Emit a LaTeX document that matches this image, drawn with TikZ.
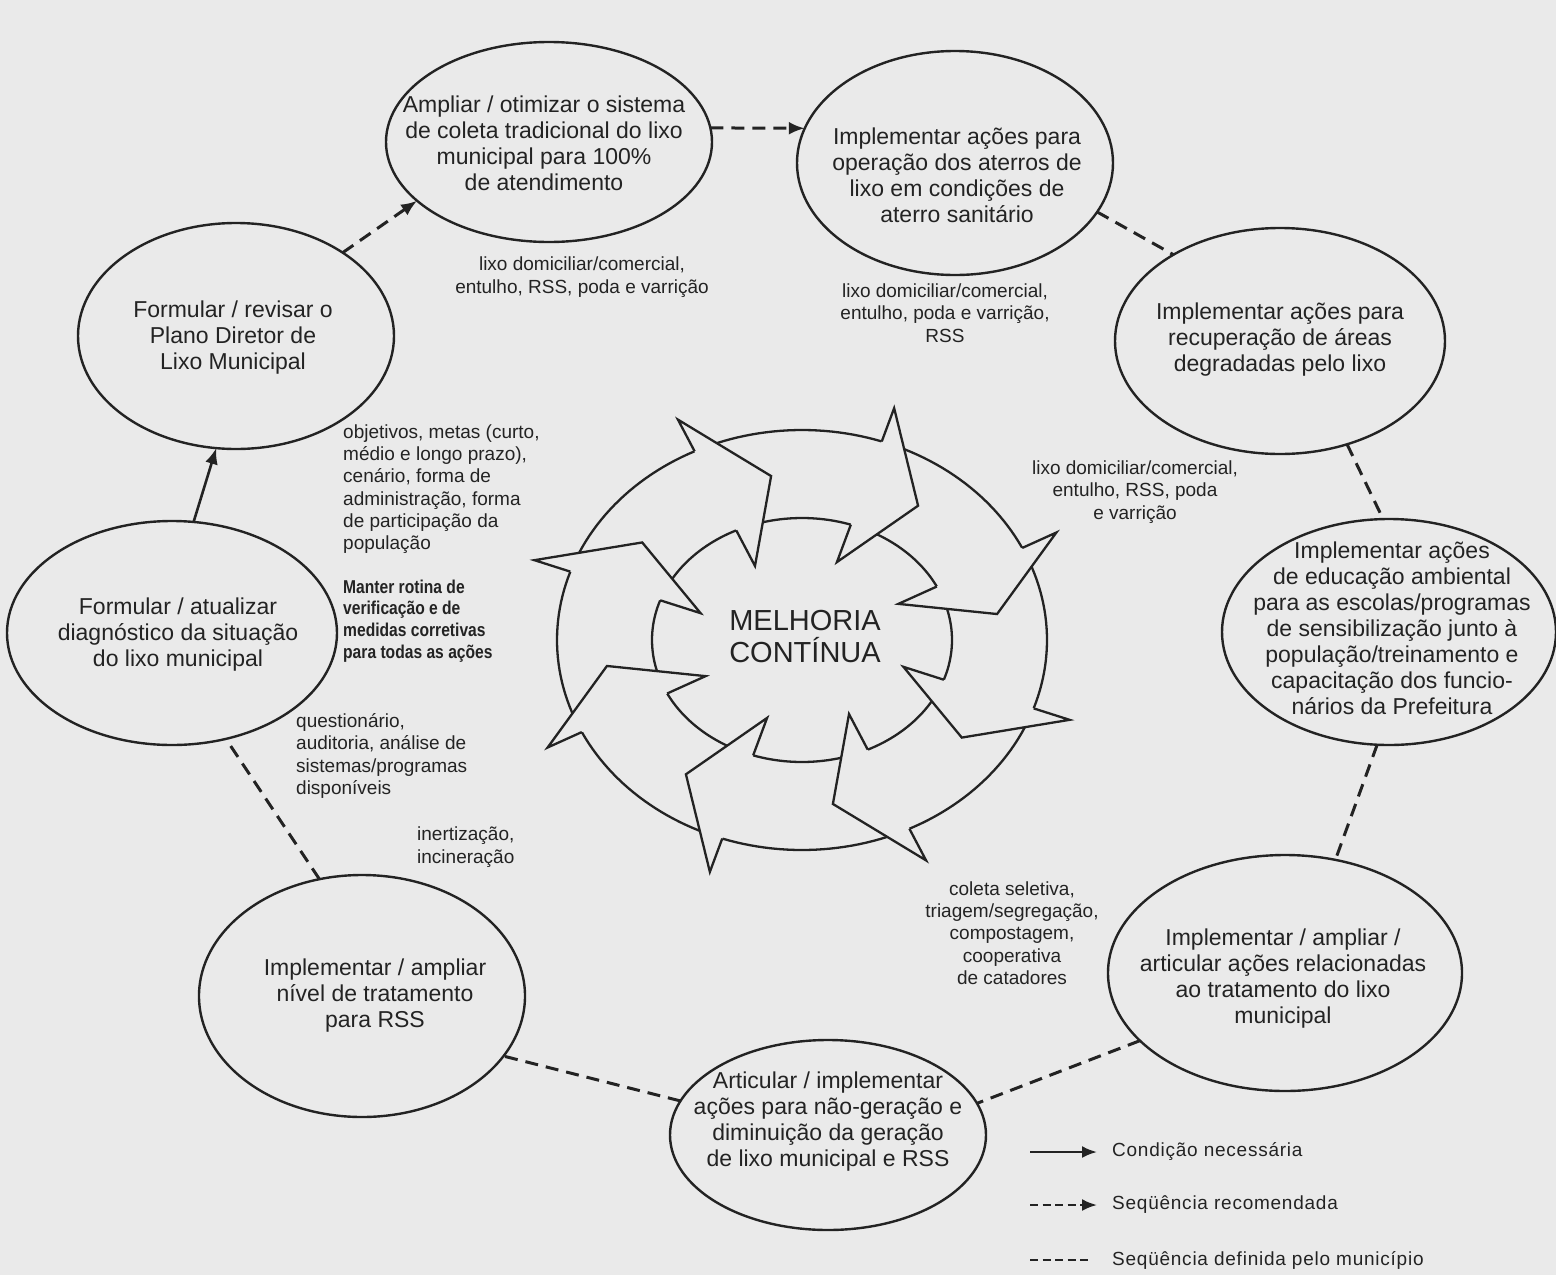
\documentclass[tikz,border=0pt]{standalone}
\usepackage{fontspec}
\setmainfont{Liberation Sans}
\newfontfamily\narrowfont[FakeStretch=0.84]{Liberation Sans}
\newfontfamily\legfont[LetterSpace=4]{Liberation Sans}
\usetikzlibrary{shapes.geometric,arrows.meta}
\definecolor{bg}{RGB}{234,234,234}
\definecolor{ink}{RGB}{35,35,35}
\begin{document}
\begin{tikzpicture}[x=1pt,y=-1pt,
  blob/.style={draw=ink, line width=2.4pt, ellipse, inner sep=0pt, outer sep=0pt},
  maintxt/.style={align=center, text=ink, font=\fontsize{23}{26}\selectfont, inner sep=0pt},
  smalltxt/.style={align=center, text=ink, font=\fontsize{19}{22.3}\selectfont, inner sep=0pt},
  lefttxt/.style={smalltxt, align=left, anchor=west},
  boldtxt/.style={align=left, anchor=west, text=ink, font=\narrowfont\bfseries\fontsize{18.6}{21.7}\selectfont, inner sep=0pt},
  centertxt/.style={align=center, text=ink, font=\fontsize{29}{32}\selectfont, inner sep=0pt},
  legtxt/.style={anchor=west, text=ink, font=\legfont\fontsize{19}{22}\selectfont, inner sep=0pt},
  seqdef/.style={draw=ink, line width=3pt, dash pattern=on 13pt off 8pt},
  seqrec/.style={seqdef, -{Latex[length=16pt,width=13pt]}},
  cond/.style={draw=ink, line width=2.6pt, -{Latex[length=16pt,width=13pt]}},
  legdash/.style={draw=ink, line width=2.4pt, dash pattern=on 8pt off 4.5pt},
  ring/.style={draw=ink, line width=2.3pt},
]
\fill[bg] (0,0) rectangle (1556,1275);
\useasboundingbox (0,0) rectangle (1556,1275);

% ---------------- central ring of arrows ----------------
\foreach \b in {161,116,71,26,-19,-64,-109,-154}{
  \pgfmathsetmacro\t{\b+41}
  \fill[bg] plot[domain=\t:\b, samples=25, variable=\u] ({802+245*cos(\u)},{640-210*sin(\u)})
     -- plot[domain=\b:\t, samples=25, variable=\u] ({802+150*cos(\u)},{640-122*sin(\u)}) -- cycle;
}
\foreach \b in {161,116,71,26,-19,-64,-109,-154}{
  \pgfmathsetmacro\t{\b+41}
  \draw[ring] plot[domain=\t:\b, samples=25, variable=\u] ({802+245*cos(\u)},{640-210*sin(\u)});
  \draw[ring] plot[domain=\t:\b, samples=25, variable=\u] ({802+150*cos(\u)},{640-122*sin(\u)});
}
\foreach \b in {161,116,71,26,-19,-64,-109,-154}{
  \pgfmathsetmacro\p{\b-17}
  \filldraw[ring, fill=bg]
    ({802+245*cos(\b)},{640-210*sin(\b)})
    -- ({802+(150+95*1.4)*cos(\b)},{640-(122+88*1.4)*sin(\b)})
    -- ({802+(150+95*0.5)*cos(\p)},{640-(122+88*0.5)*sin(\p)})
    -- ({802+(150-95*0.45)*cos(\b)},{640-(122-88*0.45)*sin(\b)})
    -- ({802+150*cos(\b)},{640-122*sin(\b)});
}
\node[centertxt] (mel) at (805,637) {MELHORIA\\CONTÍNUA};

% ---------------- ellipses ----------------
\node[blob, minimum width=316pt, minimum height=226pt] (Plano) at (236,336) {};
\node[blob, minimum width=326pt, minimum height=200pt] (Amp) at (549,142) {};
\node[blob, minimum width=316pt, minimum height=224pt] (Ater) at (955,163) {};
\node[blob, minimum width=330pt, minimum height=226pt] (Recu) at (1280,341) {};
\node[blob, minimum width=334pt, minimum height=226pt] (Educ) at (1389,632) {};
\node[blob, minimum width=354pt, minimum height=236pt] (Trat) at (1285,973) {};
\node[blob, minimum width=316pt, minimum height=190pt] (Artic) at (828,1135) {};
\node[blob, minimum width=326pt, minimum height=242pt] (RSS) at (362,996) {};
\node[blob, minimum width=330pt, minimum height=224pt] (Diag) at (172,633) {};

\node[maintxt] (tPlano) at (233,338) {Formular / revisar o\\Plano Diretor de\\Lixo Municipal};
\node[maintxt] (tAmp) at (544,143) {Ampliar / otimizar o sistema\\de coleta tradicional do lixo\\municipal para 100\%\\de atendimento};
\node[maintxt] (tAter) at (957,175) {Implementar ações para\\operação dos aterros de\\lixo em condições de\\aterro sanitário};
\node[maintxt] (tRecu) at (1280,340) {Implementar ações para\\recuperação de áreas\\degradadas pelo lixo};
\node[maintxt] (tEduc) at (1392,628) {Implementar ações\\de educação ambiental\\para as escolas/programas\\de sensibilização junto à\\população/treinamento e\\capacitação dos funcio-\\nários da Prefeitura};
\node[maintxt] (tTrat) at (1283,979) {Implementar / ampliar /\\articular ações relacionadas\\ao tratamento do lixo\\municipal};
\node[maintxt] (tArtic) at (828,1122) {Articular / implementar\\ações para não-geração e\\diminuição da geração\\de lixo municipal e RSS};
\node[maintxt] (tRSS) at (375,996) {Implementar / ampliar\\nível de tratamento\\para RSS};
\node[maintxt] (tDiag) at (178,635) {Formular / atualizar\\diagnóstico da situação\\do lixo municipal};

% ---------------- labels ----------------
\node[smalltxt] (lbAmp) at (582,277) {lixo domiciliar/comercial,\\entulho, RSS, poda e varrição};
\node[smalltxt] (lbAter) at (945,313) {lixo domiciliar/comercial,\\entulho, poda e varrição,\\RSS};
\node[lefttxt] (lbPlano) at (343,489) {objetivos, metas (curto,\\médio e longo prazo),\\cenário, forma de\\administração, forma\\de participação da\\população};
\node[boldtxt] (lbMant) at (343,621) {Manter rotina de\\verificação e de\\medidas corretivas\\para todas as ações};
\node[lefttxt] (lbDiag) at (296,756) {questionário,\\auditoria, análise de\\sistemas/programas\\disponíveis};
\node[lefttxt] (lbRSS) at (417,847) {inertização,\\incineração};
\node[smalltxt] (lbRecu) at (1135,492) {lixo domiciliar/comercial,\\entulho, RSS, poda\\e varrição};
\node[smalltxt] (lbTrat) at (1012,933) {coleta seletiva,\\triagem/segregação,\\compostagem,\\cooperativa\\de catadores};

% ---------------- connectors ----------------
\draw[cond] (Diag.79) -- (Plano.-100);
\draw[seqrec] (Plano.38) -- (Amp.-156);
\draw[seqrec] (Amp.5) -- (Ater.167);
\draw[seqdef] (Ater.-19) -- (Recu.141);
\draw[seqdef] (Recu.-57) -- (Educ.93);
\draw[seqdef] (Educ.-96) -- (Trat.66);
\draw[seqdef] (Trat.-155) -- (Artic.12);
\draw[seqdef] (Artic.167) -- (RSS.-23);
\draw[seqdef] (RSS.110) -- (Diag.-63);

% ---------------- legend ----------------
\coordinate (lg1a) at (1030,1152); \coordinate (lg1b) at (1097,1152);
\coordinate (lg2a) at (1030,1205); \coordinate (lg2b) at (1097,1205);
\coordinate (lg3a) at (1030,1260); \coordinate (lg3b) at (1090,1260);
\draw[draw=ink, line width=2.4pt, -{Latex[length=15pt,width=12pt]}] (lg1a) -- (lg1b);
\draw[legdash, -{Latex[length=15pt,width=12pt]}] (lg2a) -- (lg2b);
\draw[legdash] (lg3a) -- (lg3b);
\node[legtxt] (lt1) at (1112,1152) {Condição necessária};
\node[legtxt] (lt2) at (1112,1205) {Seqüência recomendada};
\node[legtxt] (lt3) at (1112,1260) {Seqüência definida pelo município};
\end{tikzpicture}
\end{document}
